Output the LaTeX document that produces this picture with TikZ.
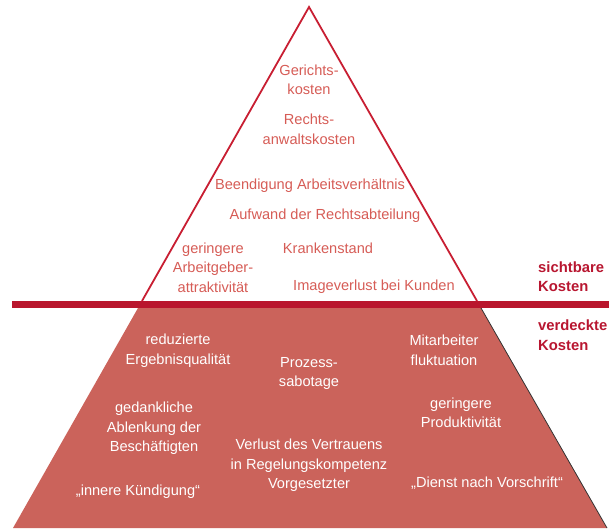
\documentclass[tikz,border=0pt]{standalone}
\usepackage{fontspec}
\setmainfont{Liberation Sans}
\definecolor{outl}{RGB}{200,30,50}
\definecolor{barred}{RGB}{185,22,45}
\definecolor{toptxt}{RGB}{214,92,86}
\definecolor{lowfill}{RGB}{203,99,91}
\definecolor{lbl}{RGB}{184,22,48}
\tikzset{
  txt/.style={font=\fontsize{14.6}{19.5}\selectfont, align=center, inner sep=0pt},
  uptxt/.style={txt, text=toptxt},
  lowtxt/.style={txt, text=white},
  sidelbl/.style={font=\fontsize{14.8}{19.5}\selectfont\bfseries, text=lbl, align=left, anchor=west, inner sep=0pt}
}
\begin{document}
\begin{tikzpicture}[x=1pt,y=-1pt]
\useasboundingbox (0,0) rectangle (609,528);
% geometry
\coordinate (apex) at (309,7);
\coordinate (ul) at (142,301);
\coordinate (ur) at (477,301);
\coordinate (ll) at (138,308);
\coordinate (lr) at (481,308);
\coordinate (bl) at (13,528);
\coordinate (br) at (607,528);
% lower filled part
\fill[lowfill] (ll) -- (lr) -- (br) -- (bl) -- cycle;
\draw[black!80, line width=0.8pt] (lr) -- (br);
% upper outline
\draw[outl, line width=1.8pt, line join=miter] (ul) -- (apex) -- (ur);
% water line bar
\fill[barred] (12,301) rectangle (609,308);
% upper texts
\node[uptxt] (g) at (309,80) {Gerichts-\\kosten};
\node[uptxt] (r) at (309,129.5) {Rechts-\\anwaltskosten};
\node[uptxt] (b) at (310,186) {Beendigung Arbeitsverhältnis};
\node[uptxt] (a) at (325,216) {Aufwand der Rechtsabteilung};
\node[uptxt] (ga) at (213,267.5) {geringere\\Arbeitgeber-\\attraktivität};
\node[uptxt] (k) at (328,248) {Krankenstand};
\node[uptxt] (im) at (374,287) {Imageverlust bei Kunden};
% side labels
\node[sidelbl] (sk) at (538,276.5) {sichtbare\\Kosten};
\node[sidelbl] (vk) at (538,335) {verdeckte\\Kosten};
% lower texts
\node[lowtxt] (re) at (178,350.5) {reduzierte\\Ergebnisqualität};
\node[lowtxt] (ps) at (309,373.5) {Prozess-\\sabotage};
\node[lowtxt] (mf) at (444,350.5) {Mitarbeiter\\fluktuation};
\node[lowtxt] (ab) at (154,428.5) {gedankliche\\Ablenkung der\\Beschäftigten};
\node[lowtxt] (gp) at (461,413) {geringere\\Produktivität};
\node[lowtxt] (vv) at (309,465.5) {Verlust des Vertrauens\\in Regelungskompetenz\\Vorgesetzter};
\node[lowtxt] (ik) at (138,492) {„innere Kündigung“};
\node[lowtxt] (dv) at (487,483) {„Dienst nach Vorschrift“};
\end{tikzpicture}
\end{document}
